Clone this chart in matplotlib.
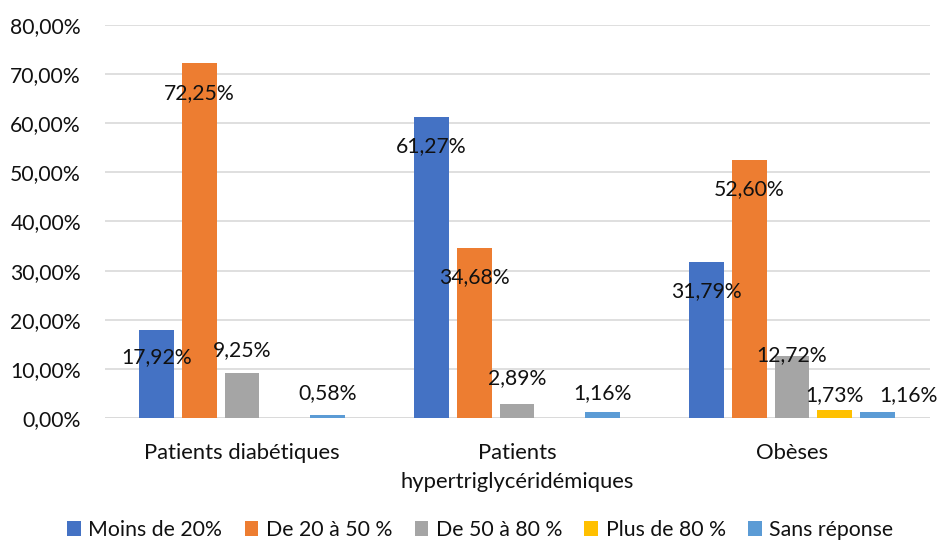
import numpy as np
import matplotlib
matplotlib.use("Agg")
import matplotlib.pyplot as plt

plt.rcParams["font.family"] = ["Lato", "DejaVu Sans"]

categories = ["Patients diabétiques", "Patients\nhypertriglycéridémiques", "Obèses"]
series_names = ["Moins de 20%", "De 20 à 50 %", "De 50 à 80 %", "Plus de 80 %", "Sans réponse"]
moins_20 = [17.92, 61.27, 31.79]
de_20_50 = [72.25, 34.68, 52.60]
de_50_80 = [9.25, 2.89, 12.72]
plus_80 = [0.0, 0.0, 1.73]
sans_reponse = [0.58, 1.16, 1.16]
y_ticks = [0, 10, 20, 30, 40, 50, 60, 70, 80]

colors = ["#4472C4", "#ED7D31", "#A5A5A5", "#FFC000", "#5B9BD5"]

# label placement (offset from bar top, in % units), as in the original sheet
label_dy = [
    [-5.6, -6.0, -5.9],
    [-6.1, -5.9, -6.1],
    [4.6, 5.3, 0.0],
    [None, None, 3.0],
    [4.5, 4.0, 3.5],
]
label_dx = [
    [0, 0, 0],
    [0, 0, 0],
    [0, 0, 0],
    [0, 0, 0],
    [0, 0, 0.11],
]

series = [moins_20, de_20_50, de_50_80, plus_80, sans_reponse]

fig = plt.figure(figsize=(9.38, 5.42), dpi=100)
ax = fig.add_axes([104.5 / 938, 1 - 418 / 542, 825 / 938, 393 / 542])

x = np.arange(len(categories))
slot = 0.156
width = 0.127

for i, (name, vals) in enumerate(zip(series_names, series)):
    pos = x + (i - 2) * slot
    ax.bar(pos, vals, width, color=colors[i], label=name, zorder=3)
    for j, v in enumerate(vals):
        if label_dy[i][j] is None:
            continue
        txt = f"{v:.2f}".replace(".", ",") + "%"
        ax.text(pos[j] + label_dx[i][j], v + label_dy[i][j], txt,
                ha="center", va="center", fontsize=15.2, color="#111111", zorder=4)

ax.set_xlim(-0.5, 2.5)
ax.set_ylim(0, 80)
ax.set_yticks(y_ticks)
ax.set_yticklabels([f"{t:.2f}".replace(".", ",") + "%" for t in y_ticks])
ax.set_xticks(x)
ax.set_xticklabels(categories, linespacing=1.55)

ax.yaxis.grid(True, color="#D9D9D9", linewidth=1.2, zorder=0)
ax.set_axisbelow(True)
for s in ax.spines.values():
    s.set_visible(False)
ax.axhline(0, color="#D9D9D9", linewidth=1.2, zorder=2)

ax.tick_params(axis="y", length=0, pad=17, labelsize=15.2, labelcolor="#111111")
ax.tick_params(axis="x", length=0, pad=18, labelsize=15.8, labelcolor="#111111")

fig.legend(loc="center", bbox_to_anchor=(0.512, 1 - 530 / 542), ncol=5, frameon=False,
           fontsize=15.3, handlelength=0.65, handleheight=0.65, handletextpad=0.35,
           columnspacing=1.05, labelcolor="#111111")

fig.savefig("out.png", dpi=100)
